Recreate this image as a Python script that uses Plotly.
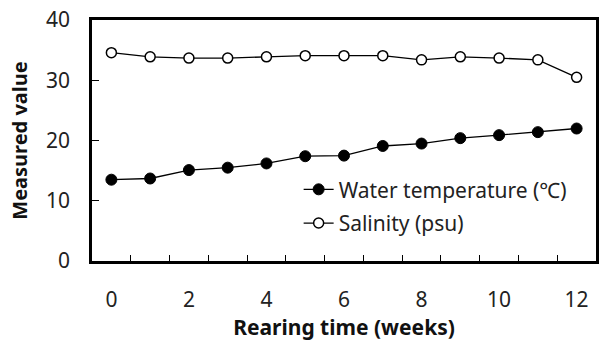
import plotly.graph_objects as go

weeks = list(range(13))
water_temp = [13.5, 13.7, 15.1, 15.5, 16.2, 17.4, 17.5, 19.1, 19.5, 20.4, 20.9, 21.4, 22.0]
salinity = [34.6, 33.9, 33.7, 33.7, 33.9, 34.1, 34.1, 34.1, 33.4, 33.9, 33.7, 33.4, 30.5]
x_labels = [0, 2, 4, 6, 8, 10, 12]
y_ticks = [0, 10, 20, 30, 40]

FONT = "Noto Sans"
FS = 21

fig = go.Figure()
fig.add_trace(go.Scatter(
    x=weeks, y=water_temp, mode="lines+markers", name="Water temperature (\u2103)",
    line=dict(color="black", width=1.3),
    marker=dict(symbol="circle", size=11, color="black", line=dict(color="black", width=1)),
    legend="legend",
))
fig.add_trace(go.Scatter(
    x=weeks, y=salinity, mode="lines+markers", name="Salinity (psu)",
    line=dict(color="black", width=1.3),
    marker=dict(symbol="circle", size=10, color="white", line=dict(color="black", width=1.5)),
    legend="legend2",
))

fig.update_layout(
    width=604, height=347,
    margin=dict(l=92, r=5, t=11, b=86),
    paper_bgcolor="white", plot_bgcolor="white",
    font=dict(family=FONT, size=FS, color="#222"),
    legend=dict(x=0.41, y=0.296, xanchor="left", yanchor="middle",
                bgcolor="rgba(0,0,0,0)", font=dict(size=FS, family=FONT, color="#222"),
                itemwidth=30),
    legend2=dict(x=0.41, y=0.156, xanchor="left", yanchor="middle",
                 bgcolor="rgba(0,0,0,0)", font=dict(size=FS, family=FONT, color="#222"),
                 itemwidth=30),
    showlegend=True,
)

fig.update_xaxes(
    range=[-0.5, 12.5], tickmode="array", tickvals=x_labels, ticktext=[str(v) for v in x_labels],
    ticks="", showgrid=False, zeroline=False,
    showline=True, linecolor="black", linewidth=2.5, mirror=True,
    ticklabelstandoff=18,
    minor=dict(tickmode="array", tickvals=[i + 0.5 for i in range(12)], ticks="inside",
               ticklen=6, tickwidth=1, tickcolor="black", showgrid=False),
    title=dict(text="<b>Rearing time (weeks)</b>", font=dict(size=FS, family=FONT, color="#111"), standoff=4),
    tickfont=dict(size=FS, family=FONT, color="#222"),
)
fig.update_yaxes(
    range=[0, 40.02], tickmode="array", tickvals=y_ticks,
    ticks="inside", ticklen=7, tickwidth=1, tickcolor="black",
    showgrid=False, zeroline=False,
    showline=True, linecolor="black", linewidth=2.5, mirror=True,
    ticklabelstandoff=15, ticklabeloverflow="allow",
    title=dict(text="<b>Measured value</b>", font=dict(size=FS - 1, family=FONT, color="#111"), standoff=14),
    tickfont=dict(size=FS, family=FONT, color="#222"),
)

fig.write_html("out.html")
